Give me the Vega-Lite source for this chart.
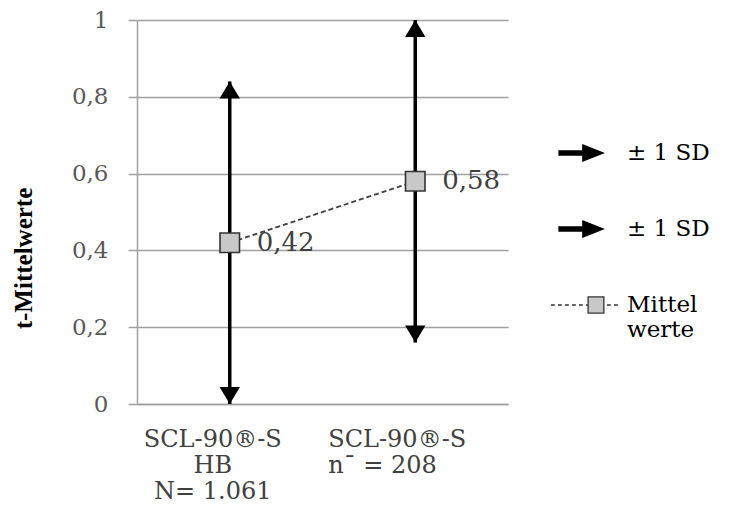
{
  "$schema": "https://vega.github.io/schema/vega-lite/v6.json",
  "width": 371,
  "height": 384,
  "autosize": "none",
  "padding": {"left": 137, "top": 20, "right": 222, "bottom": 106},
  "background": "white",
  "config": {
    "font": "DejaVu Serif",
    "view": {"stroke": null},
    "legend": {"labelFont": "DejaVu Serif", "labelFontSize": 23, "labelColor": "#000000"},
    "axisY": {
      "grid": true,
      "gridColor": "#a0a0a0",
      "gridWidth": 1.5,
      "domain": true,
      "domainColor": "#a0a0a0",
      "domainWidth": 1.5,
      "ticks": true,
      "tickColor": "#a0a0a0",
      "tickWidth": 1.5,
      "tickSize": 9,
      "labelFont": "DejaVu Serif",
      "labelFontSize": 23,
      "labelColor": "#595959",
      "labelPadding": 20,
      "titleFont": "Liberation Serif",
      "titleFontWeight": "bold",
      "titleFontSize": 25,
      "titleColor": "#000000",
      "titlePadding": 35
    },
    "axisX": {
      "grid": false,
      "domain": true,
      "domainColor": "#a0a0a0",
      "domainWidth": 1.5,
      "ticks": false,
      "labelFont": "DejaVu Serif",
      "labelFontSize": 24,
      "labelColor": "#404040",
      "labelLineHeight": 26,
      "labelPadding": 23,
      "labelBaseline": "top",
      "labelAngle": 0,
      "labelOverlap": false,
      "labelLimit": 300
    }
  },
  "data": {
    "values": [
      {"grp": "SCL-90®-S|HB|N= 1.061", "mean": 0.42, "lo": 0.0, "hi": 0.84, "label": "0,42"},
      {"grp": "SCL-90®-S|nˉ = 208", "mean": 0.58, "lo": 0.16, "hi": 1.0, "label": "0,58"}
    ]
  },
  "layer": [
    {
      "mark": {"type": "line", "color": "#404040", "strokeWidth": 1.8, "strokeDash": [5, 3]},
      "encoding": {
        "x": {
          "field": "grp", "type": "nominal", "sort": null, "title": null,
          "scale": {"paddingInner": 0, "paddingOuter": 0},
          "axis": {
            "labelExpr": "split(datum.label, '|')",
            "labelAlign": {"expr": "indexof(datum.value, 'HB') >= 0 ? 'center' : 'left'"},
            "labelOffset": {"expr": "indexof(datum.value, 'HB') >= 0 ? -17 : -87"}
          }
        },
        "y": {
          "field": "mean", "type": "quantitative", "title": "t-Mittelwerte",
          "scale": {"domain": [0, 1], "nice": false},
          "axis": {
            "values": [0, 0.2, 0.4, 0.6, 0.8, 1],
            "labelExpr": "replace(format(datum.value, '.1~f'), '.', ',')",
            "titleY": 238
          }
        }
      }
    },
    {
      "mark": {"type": "rule", "color": "#000000", "strokeWidth": 3.5},
      "encoding": {
        "x": {"field": "grp", "type": "nominal", "sort": null},
        "y": {"field": "lo", "type": "quantitative", "title": "t-Mittelwerte"},
        "y2": {"field": "hi"}
      }
    },
    {
      "mark": {"type": "point", "shape": "M0,0L-0.6,1L0.6,1Z", "size": 1156, "filled": true, "color": "#000000", "opacity": 1},
      "encoding": {
        "x": {"field": "grp", "type": "nominal", "sort": null},
        "y": {"field": "hi", "type": "quantitative", "title": "t-Mittelwerte"}
      }
    },
    {
      "mark": {"type": "point", "shape": "M0,0L-0.6,-1L0.6,-1Z", "size": 1156, "filled": true, "color": "#000000", "opacity": 1},
      "encoding": {
        "x": {"field": "grp", "type": "nominal", "sort": null},
        "y": {"field": "lo", "type": "quantitative", "title": "t-Mittelwerte"}
      }
    },
    {
      "mark": {"type": "point", "shape": "square", "size": 380, "filled": true, "fill": "#c8c8c8", "stroke": "#333333", "strokeWidth": 1.6, "opacity": 1},
      "encoding": {
        "x": {"field": "grp", "type": "nominal", "sort": null},
        "y": {"field": "mean", "type": "quantitative", "title": "t-Mittelwerte"}
      }
    },
    {
      "mark": {"type": "text", "align": "left", "baseline": "middle", "dx": 27, "font": "DejaVu Serif", "fontSize": 26, "color": "#404040"},
      "encoding": {
        "x": {"field": "grp", "type": "nominal", "sort": null},
        "y": {"field": "mean", "type": "quantitative", "title": "t-Mittelwerte"},
        "text": {"field": "label"}
      }
    },
    {
      "data": {"values": [{"item": "sd1"}, {"item": "sd2"}, {"item": "mean"}]},
      "mark": {"type": "point", "filled": true, "opacity": 0, "strokeWidth": 1.3},
      "encoding": {
        "shape": {
          "field": "item", "type": "nominal",
          "scale": {
            "domain": ["sd1", "sd2", "mean"],
            "range": [
              "M-0.77,-0.06L-0.09,-0.06L-0.09,-0.23L0.49,0L-0.09,0.23L-0.09,0.06L-0.77,0.06Z",
              "M-0.77,-0.06L-0.09,-0.06L-0.09,-0.23L0.49,0L-0.09,0.23L-0.09,0.06L-0.77,0.06Z",
              "M-1,0L-0.89,0M-0.8,0L-0.69,0M-0.6,0L-0.49,0M-0.4,0L-0.29,0M-0.2,0L-0.09,0M0,0L0.06,0M0.06,-0.23L0.51,-0.23L0.51,0.23L0.06,0.23ZM0.6,0L0.71,0M0.8,0L0.91,0"
            ]
          },
          "legend": {
            "title": null,
            "orient": "none",
            "legendX": 413,
            "legendY": 97,
            "padding": 0,
            "symbolSize": 4900,
            "symbolOpacity": 1,
            "symbolStrokeWidth": 1.3,
            "labelExpr": "datum.value == 'mean' ? ['Mittel', 'werte'] : '± 1 SD'",
            "labelFont": "DejaVu Serif",
            "labelFontSize": 23,
            "labelColor": "#000000",
            "labelOffset": 5,
            "rowPadding": 28,
            "encode": {"labels": {"update": {"font": {"value": "DejaVu Serif"}}}}
          }
        },
        "fill": {
          "field": "item", "type": "nominal",
          "scale": {"domain": ["sd1", "sd2", "mean"], "range": ["#000000", "#000000", "#c8c8c8"]}
        },
        "stroke": {
          "field": "item", "type": "nominal",
          "scale": {"domain": ["sd1", "sd2", "mean"], "range": ["#000000", "#000000", "#333333"]}
        }
      }
    }
  ]
}
